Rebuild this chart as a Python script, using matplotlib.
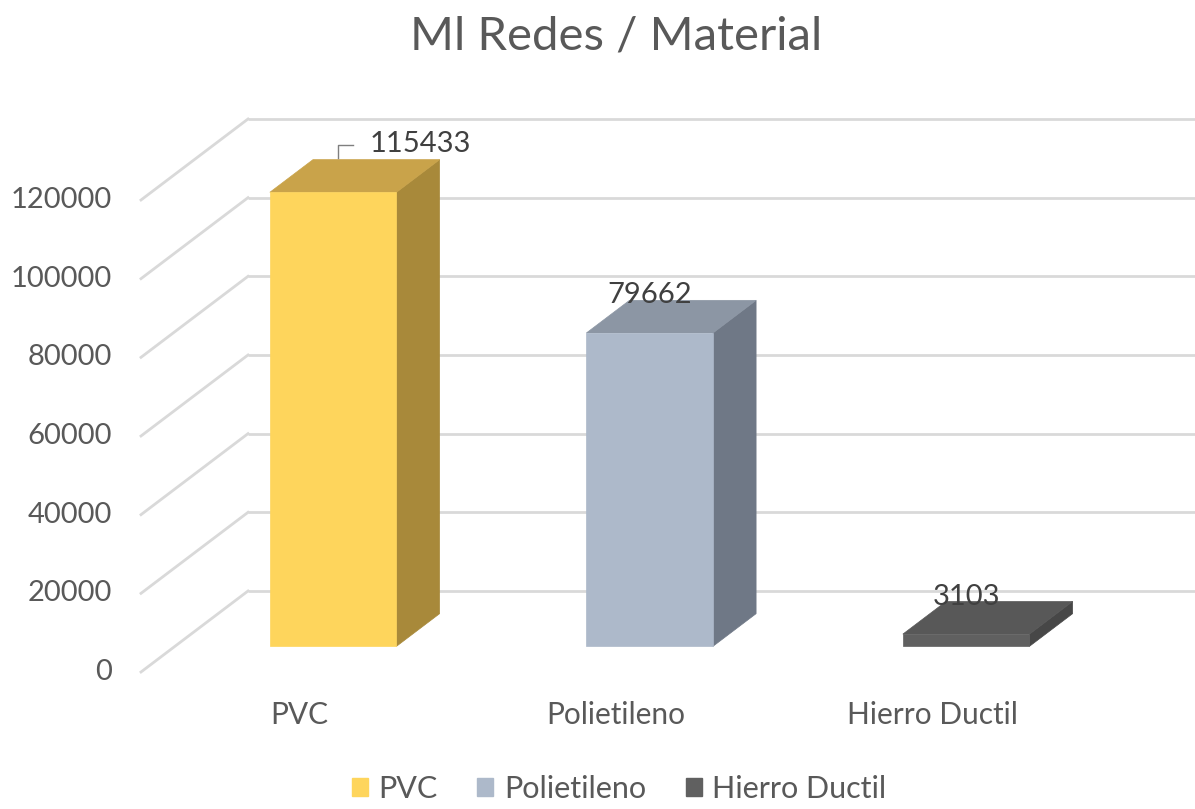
import matplotlib
matplotlib.use("Agg")
import matplotlib.pyplot as plt
from matplotlib.patches import Polygon, Patch

categories = ["PVC", "Polietileno", "Hierro Ductil"]
values = [115433, 79662, 3103]
yticks = [0, 20000, 40000, 60000, 80000, 100000, 120000]
front_colors = ["#FED55C", "#ADB9CA", "#606060"]
top_colors = ["#C9A34A", "#8C96A4", "#585858"]
side_colors = ["#A8893A", "#6F7886", "#474747"]
text_color = "#595959"
grid_color = "#D9D9D9"

plt.rcParams['font.family'] = ['Lato', 'DejaVu Sans']

W, H = 1195, 809
fig = plt.figure(figsize=(W / 100, H / 100), dpi=100)
ax_left, ax_bottom, ax_top = 248, 218, 690
ax = fig.add_axes([ax_left / W, ax_bottom / H, (W - ax_left) / W, (ax_top - ax_bottom) / H])
px_per_cat = 316.5
x0 = -0.5
x1 = x0 + (W - ax_left) / px_per_cat
ax.set_xlim(x0, x1)
ax.set_ylim(0, 120000)
ax.axis("off")

px_per_val = (ax_top - ax_bottom) / 120000.0
# oblique depth offset (front = depth 1)
DX = -107 / px_per_cat
DV = -81 / px_per_val


def P(x, v, d):
    return (x + d * DX, v + d * DV)


# gridlines
for t in yticks:
    ax.plot([x0, x1], [t, t], color=grid_color, lw=2, zorder=1, clip_on=False,
            solid_capstyle="butt")
    ax.plot([P(x0, t, 0)[0], P(x0, t, 1)[0]], [P(x0, t, 0)[1], P(x0, t, 1)[1]],
            color=grid_color, lw=2, zorder=1, clip_on=False)
    fx, fy = P(x0, t, 1)
    ax.annotate(f"{t}", xy=(fx, fy), xytext=(-21, 0), textcoords="offset points",
                ha="right", va="center", fontsize=21, color=text_color,
                annotation_clip=False)

# bars
bw = 0.4
d_back, d_front = 0.28, 0.683
for i, (v, cf, ct, cs) in enumerate(zip(values, front_colors, top_colors, side_colors)):
    xl, xr = i - bw / 2, i + bw / 2
    front = [P(xl, 0, d_front), P(xr, 0, d_front), P(xr, v, d_front), P(xl, v, d_front)]
    side = [P(xr, 0, d_front), P(xr, 0, d_back), P(xr, v, d_back), P(xr, v, d_front)]
    top = [P(xl, v, d_front), P(xr, v, d_front), P(xr, v, d_back), P(xl, v, d_back)]
    for poly, c in ((side, cs), (top, ct), (front, cf)):
        ax.add_patch(Polygon(poly, closed=True, facecolor=c, edgecolor=c, lw=0.5,
                             zorder=3, clip_on=False))
    # category label on floor front edge
    lx, ly = P(i, 0, 1)
    ax.annotate(categories[i], xy=(lx, ly), xytext=(0, -31), textcoords="offset points",
                ha="center", va="center", fontsize=21.5, color=text_color,
                annotation_clip=False)

# data labels
for i, v in enumerate(values):
    tx, ty = P(i, v, d_front)
    if i == 0:
        ax.annotate(f"{v}", xy=(tx, ty), xytext=(63, 35), textcoords="offset points",
                    ha="center", va="center", fontsize=21, color="#404040",
                    annotation_clip=False, zorder=5)
        lx0 = tx + 5 / px_per_cat
        lx1 = tx + 20 / px_per_cat
        ly0 = ty + 34 / px_per_val
        ly1 = ty + 47 / px_per_val
        ax.plot([lx0, lx0, lx1], [ly0, ly1, ly1], color="#7F7F7F", lw=1,
                clip_on=False, zorder=5)
    else:
        ax.annotate(f"{v}", xy=(tx, ty), xytext=(0, 27), textcoords="offset points",
                    ha="center", va="center", fontsize=21, color="#404040",
                    annotation_clip=False, zorder=5)

fig.text(616 / W, 1 - 37 / H, "Ml Redes / Material", ha="center", va="center",
         fontsize=34, color=text_color)

handles = [Patch(facecolor=c, edgecolor=c) for c in front_colors]
fig.legend(handles, categories, loc="center", bbox_to_anchor=(619 / W, 1 - 789 / H),
           ncol=3, frameon=False, fontsize=22, handlelength=0.52, handleheight=0.52,
           handletextpad=0.35, columnspacing=1.3, labelcolor=text_color,
           borderpad=0, borderaxespad=0)

fig.savefig("out.png", dpi=100)
